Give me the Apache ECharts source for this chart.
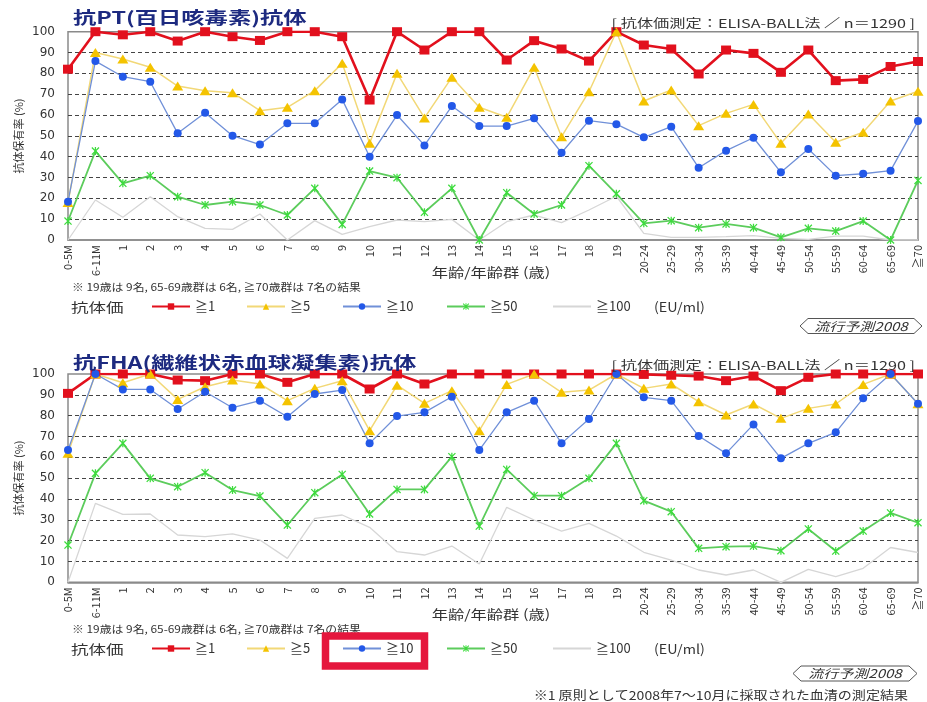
<!DOCTYPE html>
<html><head><meta charset="utf-8">
<script src="https://cdn.jsdelivr.net/npm/echarts@6/dist/echarts.min.js"></script>
<style>html,body{margin:0;padding:0;background:#fff}#c{width:927px;height:702px}</style>
</head><body><div id="c"></div>
<script>
// ---- data ----
const categories = ['0-5M','6-11M','1','2','3','4','5','6','7','8','9','10','11','12','13','14','15','16','17','18','19',
  '20-24','25-29','30-34','35-39','40-44','45-49','50-54','55-59','60-64','65-69','≧70'];
const yTicks = [0,10,20,30,40,50,60,70,80,90,100];
const seriesNames = ['≧1','≧5','≧10','≧50','≧100'];

const ptGe1 = [82,100,98.5,100,95.5,100,97.6,95.8,100,100,97.6,67.2,100,91.2,100,100,86.4,95.7,91.7,85.9,100,93.6,91.7,79.7,91.2,89.6,80.5,91.2,76.5,77.1,83.3,85.7];
const ptGe5 = [18,90,86.9,82.9,73.9,71.7,70.7,62.1,63.7,71.7,84.8,46.4,80,58.6,78.1,63.7,58.9,82.9,49.6,71.2,100,66.7,72,54.9,60.8,65.1,46.4,60.5,46.9,51.7,66.7,71.4];
const ptGe10 = [18.4,85.9,78.4,76,51.2,61.1,50.1,45.8,56,56,67.5,40,60,45.4,64.3,54.7,54.7,58.4,41.9,57.3,55.6,49.3,54.4,34.7,42.9,49.1,32.5,43.7,30.9,31.8,33.3,57.1];
const ptGe50 = [9.1,42.7,27.2,30.9,20.8,16.8,18.4,16.8,12,24.8,7.5,33.1,29.9,13.3,24.8,0,22.7,12.5,16.8,35.7,22.2,8,9.3,5.9,7.7,5.9,1.3,5.6,4.3,9.1,0,28.6];
const ptGe100 = [0,19.2,10.9,20.8,11.2,5.6,5.1,12.5,0,9.3,2.7,6.4,9.6,8.8,9.9,0,8.8,12,8.3,14.4,21,3.2,1.3,1.3,1.6,2.1,0.8,0.3,1.9,1.9,0,0];

const fhaGe1 = [90.7,100,100,100,97.1,96.8,100,100,96,100,100,92.8,100,95.2,100,100,100,100,100,100,100,99.8,99.4,99,96.8,99,92,98.4,100,100,100,100];
const fhaGe5 = [62,100,95.8,100,87.8,93.9,97.1,95.2,87.2,93.1,96.8,72.8,94.6,85.9,92,72.8,95,100,91.2,92.3,100,93.1,95.2,86.7,80.3,85.6,78.7,83.5,85.6,95,100,85.7];
const fhaGe10 = [63.5,100,92.6,92.6,83.2,91.5,83.8,87.2,79.5,90.4,92.3,66.7,79.8,81.6,89.1,63.5,81.6,87.2,66.7,78.4,100,88.8,87.2,70.2,61.9,75.8,59.5,66.7,72,88.3,100,85.7];
const fhaGe50 = [17.9,52.3,66.7,49.9,45.9,52.6,44.3,41.4,27.5,43,51.8,32.8,44.6,44.6,60.3,27,54.2,41.6,41.6,49.9,66.7,39.2,33.9,16.3,17.1,17.4,15.2,25.6,15,24.6,33.3,28.6];
const fhaGe100 = [0,37.9,32.6,32.8,22.7,21.9,23.2,20.3,11.5,30.7,32.3,26.4,14.7,13.1,17.4,8.8,36,29.9,24.6,28.3,22.2,14.4,10.7,5.9,3.5,5.9,0,6.2,2.7,6.7,16.7,14.3];

const panels = [
  {title:'抗PT(百日咳毒素)抗体', data:[ptGe1,ptGe5,ptGe10,ptGe50,ptGe100]},
  {title:'抗FHA(繊維状赤血球凝集素)抗体', data:[fhaGe1,fhaGe5,fhaGe10,fhaGe50,fhaGe100]}
];
const header = '[ 抗体価測定：ELISA-BALL法 ／ n＝1290 ]';
const xName = '年齢/年齢群 (歳)';
const yName = '抗体保有率 (%)';
const note = '※ 19歳は 9名, 65-69歳群は 6名, ≧70歳群は 7名の結果';
const legendLabel = '抗体価';
const unitLabel = '(EU/ml)';
const badge = '流行予測2008';
const footnote = '※1 原則として2008年7〜10月に採取された血清の測定結果';

// ---- styles ----
const CJK = '"Noto Sans CJK JP", "Noto Sans", sans-serif';
const asterisk = 'path://M-3.5,-4.5L4.5,3.5L3.5,4.5L-4.5,-3.5Z M-3.5,4.5L-4.5,3.5L3.5,-4.5L4.5,-3.5Z M-0.7,-4.5L0.7,-4.5L0.7,4.5L-0.7,4.5Z';
const sStyles = [
  {mark:'#e2101d', line:'#e2101d', w:2.6, symbol:'rect', size:[10,9]},
  {mark:'#f4c300', line:'#f2d877', w:1.5, symbol:'triangle', size:[11,9]},
  {mark:'#2358e8', line:'#7090d8', w:1.3, symbol:'circle', size:8},
  {mark:'#3ddc3d', line:'#5ccc5c', w:1.8, symbol:asterisk, size:8},
  {mark:'#d6d6d6', line:'#d6d6d6', w:1.3, symbol:'circle', size:0}
];
const grids = [{top:31.7, height:208.3}, {top:374, height:208.3}];
const offs = [0, 342];

const option = {
  animation:false,
  backgroundColor:'#fff',
  grid: grids.map(g => ({left:68, right:9, top:g.top, height:g.height, show:true, borderColor:'#8a8a8a', borderWidth:1.5, backgroundColor:'transparent'})),
  xAxis: grids.map((g,i) => ({
    type:'category', gridIndex:i, data:categories, boundaryGap:false,
    axisLine:{show:true, lineStyle:{color:'#8a8a8a', width:1.5}},
    axisTick:{show:false},
    axisLabel:{interval:0, rotate:90, fontSize:11, color:'#333', margin:5, fontFamily:CJK},
    splitLine:{show:false}
  })),
  yAxis: grids.map((g,i) => ({
    type:'value', gridIndex:i, min:yTicks[0], max:yTicks[yTicks.length-1], interval:yTicks[1]-yTicks[0],
    axisLine:{show:false}, axisTick:{show:false},
    axisLabel:{fontSize:12, color:'#333', margin:13, fontFamily:'DejaVu Sans'},
    splitLine:{show:true, showMinLine:false, showMaxLine:false, lineStyle:{color:'#444', type:[4,3], width:1.2}}
  })),
  legend: [],
  series: [],
  graphic: []
};

panels.forEach((p, pi) => {
  p.data.forEach((arr, si) => {
    const st = sStyles[si];
    option.series.push({
      type:'line', name:seriesNames[si], xAxisIndex:pi, yAxisIndex:pi, data:arr,
      symbol:st.symbol, symbolSize:st.size, showSymbol: si !== 4,
      z: si === 4 ? 1 : 2,
      itemStyle:{color:st.mark},
      lineStyle:{color:st.line, width:st.w},
      emphasis:{disabled:true}
    });
  });
  const o = offs[pi];
  // legends (one per item for exact placement)
  const lx = [151, 246, 342, 446, 552];
  seriesNames.forEach((n, k) => {
    const item = k === 4 ? {name:n, itemStyle:{color:'rgba(0,0,0,0)', borderWidth:0}} : {name:n};
    option.legend.push({data:[item], left:lx[k], top:300 + o, padding:0, itemWidth:38, itemHeight:8,
      selectedMode:false, textStyle:{fontSize:13, color:'#333', fontFamily:CJK}});
  });
  const txt = (text, x, y, opt) => Object.assign({type:'text', x, y, z:100,
    style:Object.assign({text, fill:'#333', fontFamily:CJK, fontSize:12, align:'left', textAlign:'left', verticalAlign:'middle', textVerticalAlign:'middle'}, opt.style || {})}, opt.el || {});
  option.graphic.push(
    txt(p.title, 73, 18 + (pi ? 345 : 0), {el:{scaleX:1.37}, style:{fontSize:17, fontWeight:'bold', fill:'#1d2a80'}}),
    txt(header, 915, 23 + (pi ? 342 : 0), {el:{scaleX:1.35}, style:{align:'right', textAlign:'right', fill:'#333'}}),
    txt(yName, 19, 136 + o, {el:{rotation:Math.PI/2}, style:{fontSize:11, align:'center', textAlign:'center'}}),
    txt(xName, 491, 272 + o, {el:{scaleX:1.25}, style:{fontSize:13, align:'center', textAlign:'center'}}),
    txt(note, 72, 287 + o, {el:{scaleX:1.13}, style:{fontSize:10.5}}),
    txt(legendLabel, 71, 307 + o, {el:{scaleX:1.35}, style:{fontSize:13}}),
    txt(unitLabel, 654, 307 + o, {el:{scaleX:1.1}, style:{fontSize:13}})
  );
  const bx = pi ? [793, 917] : [800, 922];
  const by = pi ? 673.5 : 326;
  option.graphic.push({type:'polygon', z:100, shape:{points:[[bx[0],by],[bx[0]+8,by-7.5],[bx[1]-8,by-7.5],[bx[1],by],[bx[1]-8,by+7.5],[bx[0]+8,by+7.5]]},
    style:{fill:'none', stroke:'#555', lineWidth:1}});
  option.graphic.push(txt(badge, (bx[0]+bx[1])/2, by, {el:{scaleX:1.25}, style:{fontSize:12, fontStyle:'italic', align:'center', textAlign:'center', fill:'#333'}}));
});
option.graphic.push({type:'rect', z:101, shape:{x:325.5, y:636, width:99, height:30}, style:{fill:'none', stroke:'#e5173d', lineWidth:7.5}});
option.graphic.push({type:'text', x:908, y:695, z:100, scaleX:1.17,
  style:{text:footnote, fill:'#333', fontFamily:CJK, fontSize:12, align:'right', textAlign:'right', verticalAlign:'middle', textVerticalAlign:'middle'}});

const chart = echarts.init(document.getElementById('c'), null, {renderer:'canvas'});
chart.setOption(option);
</script></body></html>
